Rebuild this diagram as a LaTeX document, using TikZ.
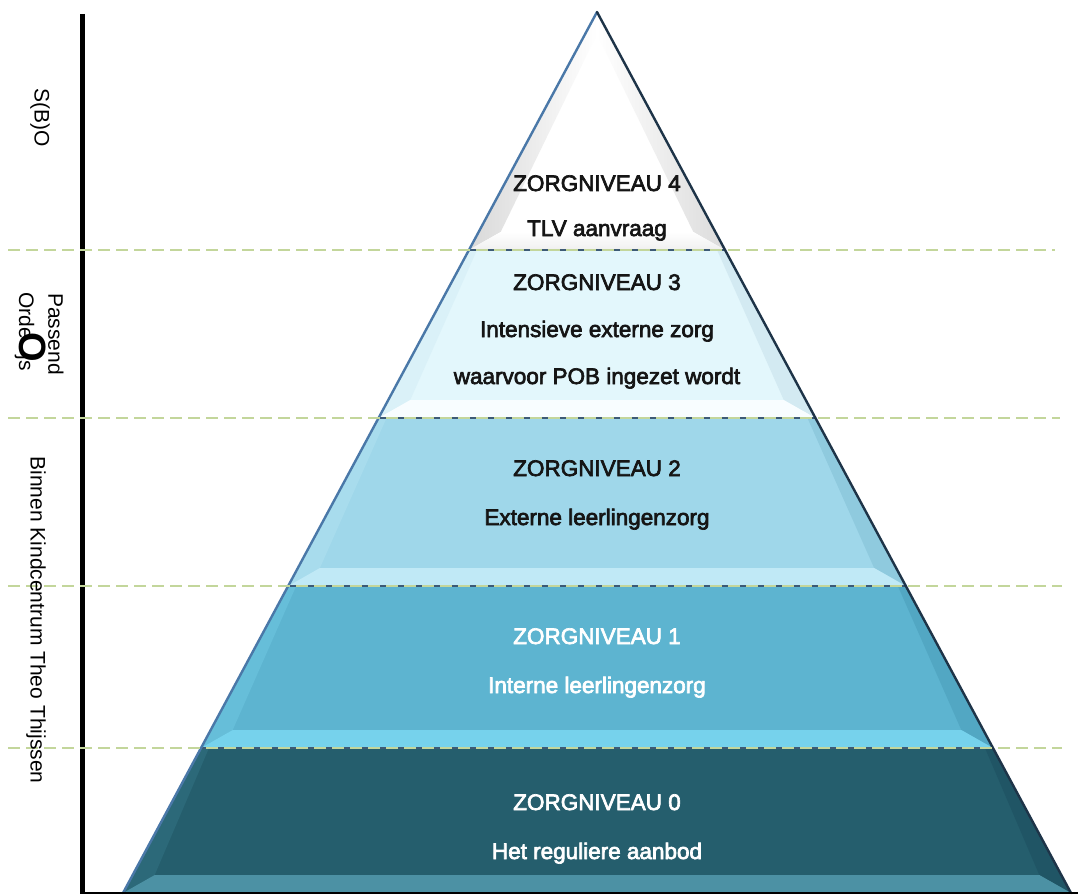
\documentclass[tikz,border=0pt]{standalone}
\usepackage{fontspec}
\setmainfont{Liberation Sans}
\newfontfamily\lvlfont[FakeBold=3]{Liberation Sans}
\usetikzlibrary{calc}
\definecolor{gline}{HTML}{C3D69B}
\definecolor{edgeL}{HTML}{4A78A8}
\definecolor{edgeR}{HTML}{1E3448}
\definecolor{sepline}{HTML}{3D5A75}
\definecolor{txtdark}{HTML}{151515}
\definecolor{lthreeM}{HTML}{E3F7FC}\definecolor{lthreeB}{HTML}{F8FDFF}\definecolor{lthreeL}{HTML}{DAF1F8}\definecolor{lthreeR}{HTML}{D3EAF2}
\definecolor{ltwoM}{HTML}{9FD7EA}\definecolor{ltwoB}{HTML}{C0E9F6}\definecolor{ltwoL}{HTML}{A8DCED}\definecolor{ltwoR}{HTML}{8FCADE}
\definecolor{loneM}{HTML}{5DB4D0}\definecolor{loneB}{HTML}{76D2EC}\definecolor{loneL}{HTML}{66BED9}\definecolor{loneR}{HTML}{52A7C3}
\definecolor{lzeroM}{HTML}{255E6D}\definecolor{lzeroB}{HTML}{4C91A4}\definecolor{lzeroL}{HTML}{2C6979}\definecolor{lzeroR}{HTML}{205565}
\newcommand\pyrlevel[6]{%
  \pgfmathsetmacro\pa{(#1-12)*0.53802}%
  \pgfmathsetmacro\pb{(#2-12)*0.53802}%
  \pgfmathsetmacro\pc{(#2-30)*0.53802}%
  \fill[#3] (597-\pa,#1) -- (597+\pa,#1) -- (597+\pb,#2) -- (597-\pb,#2) -- cycle;
  \fill[#5] (597-\pa,#1) -- (597-\pa+8,#1) -- (597-\pc+22,#2-18) -- (597-\pb,#2) -- cycle;
  \fill[#6] (597+\pa,#1) -- (597+\pa-8,#1) -- (597+\pc-22,#2-18) -- (597+\pb,#2) -- cycle;
  \fill[#4] (597-\pb,#2) -- (597-\pc+22,#2-18) -- (597+\pc-22,#2-18) -- (597+\pb,#2) -- cycle;
}
\begin{document}
\begin{tikzpicture}[x=1pt,y=-1pt,
  gdash/.style={draw=gline, line width=2.6pt, dash pattern=on 12pt off 6pt},
  sep/.style={draw=sepline, line width=1.4pt},
  lbl/.style={font=\lvlfont\fontsize{22.5}{27}\selectfont, anchor=base, inner sep=0pt},
  side/.style={font=\fontsize{21}{25}\selectfont, inner sep=0pt, text=black}]
\useasboundingbox (0,0) rectangle (1089,896);
\fill[white] (0,0) rectangle (1089,896);
\coordinate (apex) at (597,12);
\coordinate (bl) at (123,893);
\coordinate (br) at (1071,893);
% top level (triangle)
\pgfmathsetmacro\pb{(250-12)*0.53802}
\pgfmathsetmacro\pc{(250-30)*0.53802}
\fill[white] (apex) -- (597+\pb,250) -- (597-\pb,250) -- cycle;
\shade[left color=gray!30, right color=white] (apex) -- (597,34) -- (597-\pc+22,232) -- (597-\pb,250) -- cycle;
\shade[left color=white, right color=gray!28] (apex) -- (597,34) -- (597+\pc-22,232) -- (597+\pb,250) -- cycle;
\shade[top color=white, bottom color=gray!12] (597-\pb,250) -- (597-\pc+22,232) -- (597+\pc-22,232) -- (597+\pb,250) -- cycle;
\fill[white] (597,36) -- (597-\pc+30,229) -- (597+\pc-30,229) -- cycle;
% lower levels
\pyrlevel{250}{418}{lthreeM}{lthreeB}{lthreeL}{lthreeR}
\pyrlevel{418}{586}{ltwoM}{ltwoB}{ltwoL}{ltwoR}
\pyrlevel{586}{748}{loneM}{loneB}{loneL}{loneR}
\pyrlevel{748}{893}{lzeroM}{lzeroB}{lzeroL}{lzeroR}
% separators inside pyramid
\foreach \yy in {250,418,586,748}{
  \pgfmathsetmacro\pq{(\yy-12)*0.53802}
  \draw[sep] (597-\pq,\yy) -- (597+\pq,\yy);
}
% pyramid edges
\draw[edgeL, line width=2.4pt, line cap=round] (apex) -- (bl);
\draw[edgeR, line width=2.4pt, line cap=round] (apex) -- (br);
% axes
\draw[black, line width=5pt] (82,14) -- (82,893);
\draw[black, line width=2pt] (80,893) -- (1078,893);
% green dashed lines
\draw[gdash] (8,250) -- (1055,250);
\draw[gdash] (8,418) -- (1060,418);
\draw[gdash] (8,586) -- (1062,586);
\draw[gdash] (8,748) -- (1062,748);
% texts
\node[lbl, text=txtdark] (z4a) at (597,191) {ZORGNIVEAU 4};
\node[lbl, text=txtdark] (z4b) at (597,236) {TLV aanvraag};
\node[lbl, text=txtdark] (z3a) at (597,290) {ZORGNIVEAU 3};
\node[lbl, text=txtdark] (z3b) at (597,337) {Intensieve externe zorg};
\node[lbl, text=txtdark] (z3c) at (597,384) {waarvoor POB ingezet wordt};
\node[lbl, text=txtdark] (z2a) at (597,476) {ZORGNIVEAU 2};
\node[lbl, text=txtdark] (z2b) at (597,525) {Externe leerlingenzorg};
\node[lbl, text=white] (z1a) at (597,644) {ZORGNIVEAU 1};
\node[lbl, text=white] (z1b) at (597,693) {Interne leerlingenzorg};
\node[lbl, text=white] (z0a) at (597,810) {ZORGNIVEAU 0};
\node[lbl, text=white] (z0b) at (597,859) {Het reguliere aanbod};
% side labels
\node[side, rotate=-90] (sbo) at (40,118) {S(B)O};
\node[side, rotate=-90] (pas) at (56,334) {Passend};
\node[side, rotate=-90, anchor=base west] (ond) at (19,292) {Orde\kern-6pt{\fontsize{38}{38}\selectfont\bfseries O}\kern-7pt js};
\node[side, rotate=-90] (bkc) at (36,620) {Binnen Kindcentrum Theo Thijssen};
\end{tikzpicture}
\end{document}
